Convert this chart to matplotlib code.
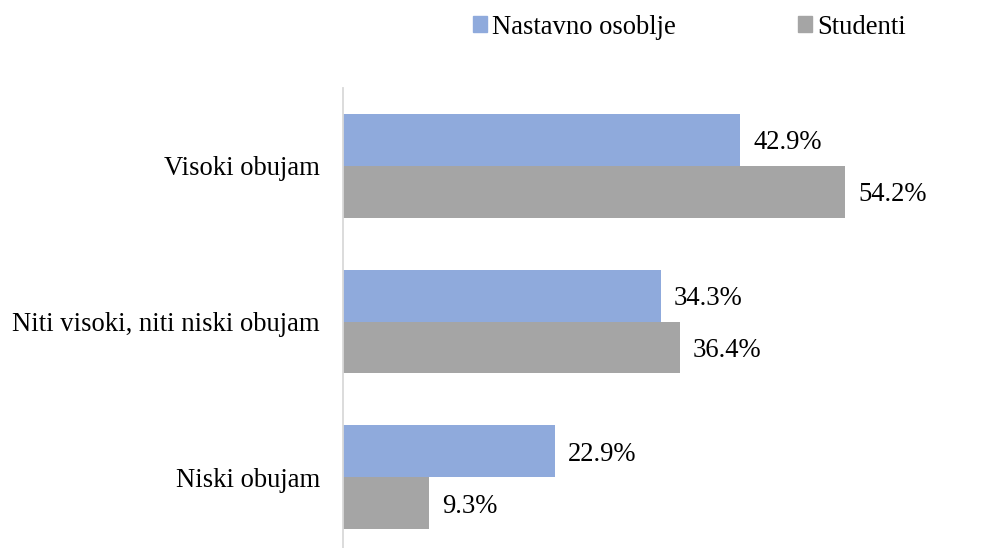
import matplotlib.pyplot as plt
from matplotlib.patches import Patch

categories = ["Visoki obujam", "Niti visoki, niti niski obujam", "Niski obujam"]
series_names = ["Nastavno osoblje", "Studenti"]
staff = [42.9, 34.3, 22.9]
students = [54.2, 36.4, 9.3]

blue = "#8faadc"
grey = "#a5a5a5"

plt.rcParams["font.family"] = ["Liberation Serif", "DejaVu Serif"]
fs = 19.2

fig = plt.figure(figsize=(9.81, 5.48), dpi=100)
xmax = 66.0
px_per_pct = 9.262
ax = fig.add_axes([343 / 981, -7 / 548, xmax * px_per_pct / 981, 467 / 548])

h = 1 / 3
pos = list(range(len(categories)))
ax.barh([p - h / 2 for p in pos], staff, height=h, color=blue)
ax.barh([p + h / 2 for p in pos], students, height=h, color=grey)

# value labels next to bar ends
for p, v in zip(pos, staff):
    ax.text(v + 1.4, p - h / 2, f"{v:.1f}%", va="center_baseline", ha="left", fontsize=fs)
for p, v in zip(pos, students):
    ax.text(v + 1.4, p + h / 2, f"{v:.1f}%", va="center_baseline", ha="left", fontsize=fs)

ax.set_ylim(2.5, -0.5)
ax.set_xlim(0, xmax)
ax.set_yticks(pos)
ax.set_yticklabels(categories, fontsize=fs)
ax.tick_params(axis="y", length=0, pad=16.5)
ax.set_xticks([])
for s in ["top", "right", "bottom"]:
    ax.spines[s].set_visible(False)
ax.spines["left"].set_color("#d9d9d9")
ax.spines["left"].set_linewidth(1.3)

handles = [Patch(color=blue), Patch(color=grey)]
fig.legend(handles, series_names, loc="center", bbox_to_anchor=(689.5 / 981, 1 - 27 / 548),
           ncol=2, frameon=False, fontsize=fs, handlelength=0.5, handleheight=0.5,
           handletextpad=0.2, columnspacing=4.6, borderpad=0)

fig.savefig("out.png", dpi=100)
